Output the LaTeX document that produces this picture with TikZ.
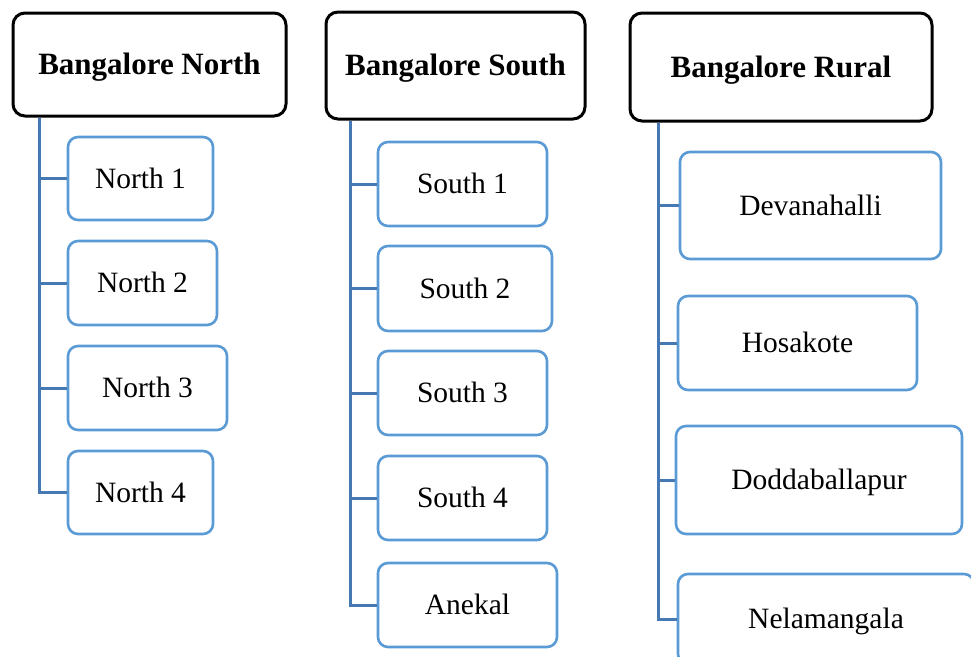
\documentclass[tikz,border=0pt]{standalone}
\usepackage{fontspec}
\setmainfont{Liberation Serif}
\definecolor{leafc}{RGB}{91,155,213}
\definecolor{connc}{RGB}{70,120,180}
\begin{document}
\begin{tikzpicture}[x=1pt,y=-1pt,
  head/.style={draw=black,line width=3pt,rounded corners=12pt,fill=white,
    font=\fontsize{31}{36}\selectfont\bfseries,inner sep=0pt,text height=20.5pt,text depth=0pt},
  leaf/.style={draw=leafc,line width=2.6pt,rounded corners=10pt,fill=white,
    font=\fontsize{29.5}{34}\selectfont,inner sep=0pt,text height=19.5pt,text depth=0pt},
  conn/.style={draw=connc,line width=3pt}]
\useasboundingbox (0,0) rectangle (971,656);
\clip (0,0) rectangle (971,656);
\fill[white] (0,0) rectangle (971,656);

% headers
\node[head,minimum width=273pt,minimum height=103pt] (hN) at (149.5,64.5) {Bangalore North};
\node[head,minimum width=259pt,minimum height=107pt] (hS) at (455.5,65.5) {Bangalore South};
\node[head,minimum width=302pt,minimum height=108pt] (hR) at (781,67) {Bangalore Rural};

% north
\node[leaf,minimum width=145pt,minimum height=83pt] (n1) at (140.5,178.5) {North 1};
\node[leaf,minimum width=149pt,minimum height=84pt] (n2) at (142.5,283) {North 2};
\node[leaf,minimum width=159pt,minimum height=84pt] (n3) at (147.5,388) {North 3};
\node[leaf,minimum width=145pt,minimum height=83pt] (n4) at (140.5,492.5) {North 4};

% south
\node[leaf,minimum width=169pt,minimum height=84pt] (s1) at (462.5,184) {South 1};
\node[leaf,minimum width=174pt,minimum height=85pt] (s2) at (465,288.5) {South 2};
\node[leaf,minimum width=169pt,minimum height=84pt] (s3) at (462.5,393) {South 3};
\node[leaf,minimum width=169pt,minimum height=84pt] (s4) at (462.5,498) {South 4};
\node[leaf,minimum width=179pt,minimum height=84pt] (s5) at (467.5,605) {Anekal};

% rural
\node[leaf,minimum width=261pt,minimum height=107pt] (r1) at (810.5,205.5) {Devanahalli};
\node[leaf,minimum width=239pt,minimum height=94pt] (r2) at (797.5,343) {Hosakote};
\node[leaf,minimum width=286pt,minimum height=108pt] (r3) at (819,480) {Doddaballapur};
\node[leaf,minimum width=296pt,minimum height=90pt] (r4) at (826,619) {Nelamangala};

% connectors
\foreach \c in {n1,n2,n3,n4}
  \draw[conn] ([xshift=28pt]hN.south west) |- (\c.west);
\foreach \c in {s1,s2,s3,s4,s5}
  \draw[conn] ([xshift=26pt]hS.south west) |- (\c.west);
\foreach \c in {r1,r2,r3,r4}
  \draw[conn] ([xshift=30pt]hR.south west) |- (\c.west);
\end{tikzpicture}
\end{document}
